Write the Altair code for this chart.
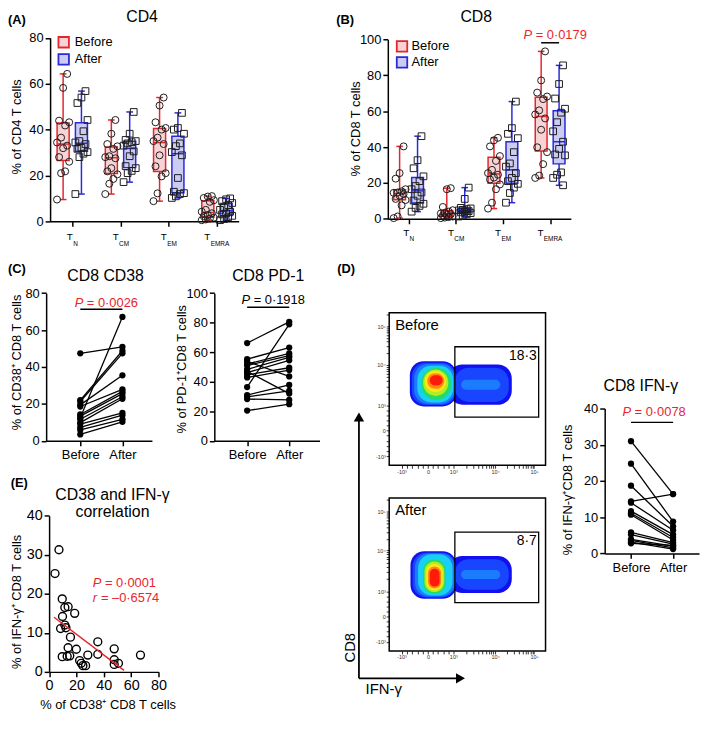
import math
import altair as alt
import numpy as np
import pandas as pd

FONT = "Liberation Sans"
W, H = 700, 710
RED = "#e4262c"
BLUE = "#2a2ad8"
PINK = "#f7d3d5"
LAV = "#cbcbf3"
TXTRED = "#e8262e"
NB = "\u00a0"

# ---------------------------------------------------------------- data
subs = ["N", "CM", "EM", "EMRA"]

cd4_before = [
    [64.3, 58.2, 43.9, 43.2, 41.8, 36.5, 34.4, 33.0, 31.9, 28.0, 26.0, 21.8, 21.0, 9.5],
    [44.2, 38.2, 33.7, 32.7, 31.6, 28.4, 28.0, 27.5, 23.2, 21.8, 20.5, 18.5, 16.4, 11.9],
    [54.0, 50.5, 43.2, 40.7, 40.0, 36.5, 35.0, 33.7, 28.8, 24.0, 21.0, 19.6, 12.2, 8.8],
    [11.0, 10.8, 10.2, 9.2, 8.5, 5.0, 4.2, 3.5, 2.8, 2.2, 1.6, 1.2, 0.8, 0.5],
]
cd4_after = [
    [56.8, 54.0, 51.6, 44.2, 39.3, 35.0, 34.4, 33.7, 32.0, 31.6, 30.2, 29.5, 28.0, 11.9],
    [47.7, 38.2, 35.5, 35.0, 34.5, 34.0, 33.0, 30.5, 28.4, 24.1, 23.2, 22.0, 21.0, 17.1],
    [47.3, 40.7, 40.0, 38.2, 34.0, 32.8, 30.2, 28.8, 18.9, 12.9, 12.3, 11.9, 10.9, 10.2],
    [10.0, 9.6, 8.8, 8.0, 7.0, 6.0, 5.0, 4.2, 3.5, 3.0, 2.4, 1.8, 1.0, 0.5],
]
cd8_before = [
    [40.4, 25.5, 22.4, 16.5, 15.3, 14.7, 14.5, 13.8, 12.9, 11.1, 10.5, 7.5, 1.3, 0.4],
    [17.1, 16.5, 6.6, 4.8, 4.0, 3.4, 3.0, 2.5, 2.2, 1.8, 1.3, 1.0, 0.7, 0.4],
    [45.2, 43.8, 40.4, 35.0, 32.3, 27.3, 25.5, 24.6, 23.0, 21.9, 19.2, 16.5, 9.0, 5.7],
    [93.4, 77.2, 70.4, 68.2, 66.8, 60.5, 58.2, 56.0, 49.7, 39.9, 37.2, 30.5, 24.1, 22.8],
]
cd8_after = [
    [46.1, 32.7, 28.2, 23.7, 21.0, 18.3, 16.5, 14.7, 12.9, 10.2, 8.4, 7.2, 6.1, 4.0],
    [17.4, 11.1, 6.1, 5.8, 5.4, 5.0, 4.7, 4.3, 4.0, 3.6, 3.2, 2.5, 1.8, 1.3],
    [65.4, 50.6, 47.4, 45.0, 37.2, 30.9, 29.1, 25.5, 22.8, 21.0, 19.5, 17.4, 14.4, 9.0],
    [85.6, 75.2, 67.1, 61.4, 59.2, 53.9, 48.8, 43.0, 39.0, 35.9, 35.4, 25.9, 24.6, 22.8, 18.7],
]

cd38_before = [47.4, 22.1, 21.3, 19.5, 12.5, 18.6, 14.3, 13.4, 11.7, 9.9, 9.1, 7.3, 5.9, 3.5]
cd38_after = [50.9, 48.8, 47.4, 35.5, 67.1, 27.9, 26.8, 25.6, 23.9, 22.8, 15.2, 13.9, 11.7, 10.3]

pd1_before = [66.2, 55.3, 53.8, 52.0, 51.0, 48.4, 47.0, 46.2, 44.7, 42.9, 36.4, 31.0, 29.8, 28.3, 20.5]
pd1_after = [80.6, 63.2, 43.6, 59.3, 57.7, 56.6, 32.0, 54.5, 49.5, 47.9, 78.9, 37.9, 33.8, 27.7, 24.8]

ifn_before = [31.0, 24.8, 18.7, 14.4, 14.0, 11.7, 11.1, 10.7, 5.8, 5.2, 3.9, 3.6, 3.1, 2.8]
ifn_after = [16.4, 8.8, 7.5, 16.4, 6.4, 5.2, 4.4, 3.7, 3.0, 2.6, 2.0, 1.5, 1.2, 2.2]

corr_x = [7.2, 4.3, 9.6, 11.5, 13.9, 18.7, 9.8, 11.5, 12.3, 8.4, 15.6, 13.9, 19.9, 35.6,
          47.6, 66.8, 28.3, 35.6, 9.6, 13.2, 15.1, 22.3, 23.5, 24.7, 26.7, 47.6, 47.6, 50.7]
corr_y = [31.3, 25.2, 18.7, 16.5, 16.7, 15.0, 14.2, 12.0, 11.3, 11.1, 8.9, 6.2, 5.8, 7.7,
          5.9, 4.3, 4.3, 4.5, 3.9, 4.0, 4.1, 2.9, 2.2, 1.6, 1.6, 3.1, 1.9, 2.2]
fit_x = [3.6, 54.8]
fit_y = [14.0, 0.4]

# flow density plots (display units 0-100), nested contour levels
before_x1 = [13.2, 38.0, 14.5, 42.0, 16.0, 46.0, 18.0, 20.6, 21.7, 22.7, 24.3, 25.9]
before_x2 = [43.0, 78.4, 42.5, 76.5, 42.0, 71.0, 41.0, 39.5, 37.8, 36.3, 35.2, 34.2]
before_y1 = [38.6, 39.7, 39.5, 41.5, 40.2, 49.5, 41.2, 42.8, 45.5, 48.1, 50.2, 52.3]
before_y2 = [68.2, 66.0, 67.2, 64.0, 66.4, 56.0, 65.2, 63.9, 62.8, 61.8, 60.4, 59.1]
before_lvl = [1, 1, 2, 2, 3, 3, 4, 5, 6, 7, 8, 9]

after_x1 = [13.6, 38.0, 15.0, 42.0, 16.5, 46.0, 18.5, 21.6, 22.6, 23.7, 24.8, 25.9]
after_x2 = [43.0, 78.4, 42.5, 76.5, 42.0, 71.0, 40.5, 36.3, 35.2, 34.2, 33.2, 32.2]
after_y1 = [34.1, 37.9, 35.0, 40.0, 35.6, 47.0, 36.2, 37.5, 38.5, 39.5, 41.0, 42.1]
after_y2 = [65.3, 62.1, 64.3, 60.0, 63.8, 53.0, 63.2, 60.0, 58.5, 56.9, 55.3, 53.7]
after_lvl = [1, 1, 2, 2, 3, 3, 4, 5, 6, 7, 8, 9]

gate_box = [42.0, 95.6, 31.6, 77.7]
gate_before = "18·3"
gate_after = "8·7"

flow_y_major = [6.0, 22.8, 39.0, 65.8, 91.1]
flow_x_major = [7.9, 24.8, 41.0, 67.8, 92.7]
flow_major_labels = ["-10³", "0", "10³", "10⁴", "10⁵"]

LVL_COLORS = ["#1010f0", "#1846ff", "#1c7cff", "#18d0f4", "#22dc6a",
              "#b4ec22", "#ffe61a", "#ff8a10", "#ff1a0a"]


# ---------------------------------------------------------------- layout helpers
def X(r):
    return (r - 4.0) * 700.0 / 703.0


def Y(r):
    return (r - 6.0) * 706.0 / 724.0


PA = dict(xr=(46.7, 238.0), yr=(223.3, 33.3), xdom=(-0.46, 3.45), ydom=(0, 80))
PB = dict(xr=(389.3, 575.0), yr=(220.7, 35.0), xdom=(-0.44, 3.44), ydom=(0, 100))
PC1 = dict(xr=(42.7, 150.0), yr=(450.7, 297.7), xdom=(-0.81, 1.70), ydom=(0, 80))
PC2 = dict(xr=(213.3, 320.0), yr=(450.7, 297.7), xdom=(-0.78, 1.72), ydom=(0, 100))
PD = dict(xr=(609.3, 705.0), yr=(567.3, 417.3), xdom=(-0.625, 1.616), ydom=(0, 40))
PE = dict(xr=(45.7, 156.7), yr=(690.0, 528.3), xdom=(0, 80), ydom=(0, 40))
PF1 = dict(xr=(390.7, 549.3), yr=(476.0, 318.0), xdom=(0, 100), ydom=(0, 100))
PF2 = dict(xr=(390.7, 549.3), yr=(668.3, 510.0), xdom=(0, 100), ydom=(0, 100))

ONE = pd.DataFrame({"k": [0]})


def xscale(P):
    return alt.Scale(domain=list(P["xdom"]), range=[X(P["xr"][0]), X(P["xr"][1])], nice=False, zero=False)


def yscale(P):
    return alt.Scale(domain=list(P["ydom"]), range=[Y(P["yr"][0]), Y(P["yr"][1])], nice=False, zero=False)


AX = dict(grid=False, domainColor="black", domainWidth=1.5, tickColor="black", tickWidth=1.5,
          tickSize=5, labelColor="black", labelPadding=2, labelOverlap=False, labelFlush=False,
          labelFont=FONT)


def left_axis(P, values, title=None, tpos=None, lfs=13, tfs=13, **kw):
    ax0 = X(P["xr"][0])
    d = dict(AX)
    d.update(orient="left", offset=-ax0, values=values, labelFontSize=lfs)
    if title is None:
        d["title"] = None
    else:
        d.update(title=title, titleX=X(tpos[0]) - ax0, titleY=Y(tpos[1]), titleAngle=270,
                 titleAlign="center", titleBaseline="middle", titleFontSize=tfs,
                 titleFontWeight="normal", titleColor="black", titleFont=FONT)
    d.update(kw)
    return alt.Axis(**d)


def bottom_axis(P, values, title=None, tpos=None, lfs=13, tfs=13, **kw):
    ay0 = Y(P["yr"][0])
    d = dict(AX)
    d.update(orient="bottom", offset=ay0 - H, values=values, labelFontSize=lfs)
    if title is None:
        d["title"] = None
    else:
        d.update(title=title, titleX=X(tpos[0]), titleY=Y(tpos[1]) - ay0, titleAngle=0,
                 titleAlign="center", titleBaseline="middle", titleFontSize=tfs,
                 titleFontWeight="normal", titleColor="black", titleFont=FONT)
    d.update(kw)
    return alt.Axis(**d)


EMW = {"0": .556, "1": .556, "2": .556, "3": .556, "4": .556, "5": .556, "6": .556,
       "7": .556, "8": .556, "9": .556, " ": .278, NB: .278, "=": .584, "·": .278, "–": .556}


def em(s):
    return sum(EMW.get(c, .556) for c in s)


def p_text(xs, ys, xc, yc, rest, color, fs=13, center=True, letter="P"):
    d = pd.DataFrame({"x": [xc], "y": [yc]})
    wl = (0.667 if letter == "P" else 0.36) * fs + 0.278 * fs
    wr = em(rest) * fs
    left = -(wl + wr) / 2 if center else 0.0
    enc = dict(x=alt.X("x:Q", scale=xs, axis=None), y=alt.Y("y:Q", scale=ys, axis=None))
    a = alt.Chart(d).mark_text(text=letter, fontStyle="italic", align="left", baseline="middle",
                               dx=left, fontSize=fs, color=color).encode(**enc)
    b = alt.Chart(d).mark_text(text=rest, align="left", baseline="middle", dx=left + wl,
                               fontSize=fs, color=color).encode(**enc)
    return [a, b]


def sig_bar(xs, ys, x0, x1, yv):
    d = pd.DataFrame({"x0": [x0], "x1": [x1], "y": [yv]})
    return alt.Chart(d).mark_rule(color="black", strokeWidth=1.5).encode(
        x=alt.X("x0:Q", scale=xs, axis=None), x2="x1:Q", y=alt.Y("y:Q", scale=ys, axis=None))


def txt(text, x, y, size, align="center", color="black", weight="normal", angle=0):
    return alt.Chart(ONE).mark_text(text=text, align=align, baseline="middle", fontSize=size,
                                    color=color, fontWeight=weight, angle=angle).encode(
        x=alt.value(X(x)), y=alt.value(Y(y)))


def long_df(before, after):
    rows = []
    for ci in range(len(before)):
        rows += [(ci, "Before", v) for v in before[ci]]
        rows += [(ci, "After", v) for v in after[ci]]
    return pd.DataFrame(rows, columns=["ci", "g", "v"])


# ---------------------------------------------------------------- box panels
def box_panel(P, before, after, yvals, ytitle, ytpos, tlab_y, sub_y, leg):
    df = long_df(before, after)
    xs, ys = xscale(P), yscale(P)
    OFF, HW, CW = 0.19, 0.125, 0.07
    side = f"(datum.g == 'Before' ? {-OFF} : {OFF})"
    agg = (alt.Chart(df)
           .transform_aggregate(q1="q1(v)", q3="q3(v)", md="median(v)", mn="min(v)", mx="max(v)",
                                groupby=["ci", "g"])
           .transform_calculate(cx=f"datum.ci + {side}")
           .transform_calculate(xl=f"datum.cx - {HW}", xh=f"datum.cx + {HW}",
                                cl=f"datum.cx - {CW}", ch=f"datum.cx + {CW}",
                                sc=f"datum.g == 'Before' ? '{RED}' : '{BLUE}'",
                                fc=f"datum.g == 'Before' ? '{PINK}' : '{LAV}'"))
    yax = left_axis(P, yvals, ytitle, ytpos)
    xax = bottom_axis(P, [0, 1, 2, 3], labels=False)
    col = alt.Color("sc:N", scale=None)
    whisk = agg.mark_rule(strokeWidth=1.5).encode(
        x=alt.X("cx:Q", scale=xs, axis=xax), y=alt.Y("mn:Q", scale=ys, axis=yax), y2="mx:Q", color=col)
    box = agg.mark_rect(strokeWidth=1.5).encode(
        x=alt.X("xl:Q", scale=xs, axis=None), x2="xh:Q",
        y=alt.Y("q1:Q", scale=ys, axis=None), y2="q3:Q",
        fill=alt.Fill("fc:N", scale=None), stroke=alt.Stroke("sc:N", scale=None))
    med = agg.mark_rule(strokeWidth=1.5).encode(
        x=alt.X("xl:Q", scale=xs, axis=None), x2="xh:Q", y=alt.Y("md:Q", scale=ys, axis=None), color=col)
    cap1 = agg.mark_rule(strokeWidth=1.5).encode(
        x=alt.X("cl:Q", scale=xs, axis=None), x2="ch:Q", y=alt.Y("mn:Q", scale=ys, axis=None), color=col)
    cap2 = agg.mark_rule(strokeWidth=1.5).encode(
        x=alt.X("cl:Q", scale=xs, axis=None), x2="ch:Q", y=alt.Y("mx:Q", scale=ys, axis=None), color=col)
    pts = (alt.Chart(df)
           .transform_window(idx="row_number()", groupby=["ci", "g"])
           .transform_calculate(jx=f"datum.ci + {side} + ((datum.idx * 5) % 7 - 3) * 0.042"))
    penc = dict(x=alt.X("jx:Q", scale=xs, axis=None), y=alt.Y("v:Q", scale=ys, axis=None))
    pb = pts.transform_filter("datum.g == 'Before'").mark_point(
        shape="circle", size=50, strokeWidth=1, color="#1c1c1c", opacity=1).encode(**penc)
    pa = pts.transform_filter("datum.g == 'After'").mark_point(
        shape="square", size=46, strokeWidth=1, color="#1c1c1c", opacity=1).encode(**penc)

    ppu = (X(P["xr"][1]) - X(P["xr"][0])) / (P["xdom"][1] - P["xdom"][0])
    lab = pd.DataFrame({"ci": list(range(len(subs))), "sub": subs})
    tw = 6.1
    sw = lab["sub"].str.len() * 4.9
    lab["tx"] = lab["ci"] + ((tw - sw) / 2) / ppu
    lab["sx"] = lab["tx"] + 0.4 / ppu
    tl = alt.Chart(lab).mark_text(text="T", align="right", baseline="middle", fontSize=10,
                                  color="black").encode(
        x=alt.X("tx:Q", scale=xs, axis=None), y=alt.value(Y(tlab_y)))
    sl = alt.Chart(lab).mark_text(align="left", baseline="middle", fontSize=6.5, color="black").encode(
        x=alt.X("sx:Q", scale=xs, axis=None), y=alt.value(Y(sub_y)), text="sub:N")

    lx, ly1, ly2, ltx = leg
    s1 = alt.Chart(ONE).mark_square(size=112, fill=PINK, stroke=RED, strokeWidth=1.8, opacity=1).encode(
        x=alt.value(X(lx)), y=alt.value(Y(ly1)))
    s2 = alt.Chart(ONE).mark_square(size=112, fill=LAV, stroke=BLUE, strokeWidth=1.8, opacity=1).encode(
        x=alt.value(X(lx)), y=alt.value(Y(ly2)))
    t1 = txt("Before", ltx, ly1, 13, align="left")
    t2 = txt("After", ltx, ly2, 13, align="left")
    return [whisk, box, med, cap1, cap2, pb, pa, tl, sl, s1, s2, t1, t2], xs, ys


# ---------------------------------------------------------------- paired panels
def pair_panel(P, before, after, yvals, ytitle, ytpos):
    xs, ys = xscale(P), yscale(P)
    n = len(before)
    df = pd.DataFrame({"pid": list(range(n)) * 2, "t": [0] * n + [1] * n, "v": list(before) + list(after)})
    yax = left_axis(P, yvals, ytitle, ytpos)
    xax = bottom_axis(P, [0, 1], labelExpr="datum.value == 0 ? 'Before' : 'After'", labelPadding=3)
    lines = alt.Chart(df).mark_line(color="black", strokeWidth=1.3).encode(
        x=alt.X("t:Q", scale=xs, axis=xax), y=alt.Y("v:Q", scale=ys, axis=yax), detail="pid:N")
    dots = alt.Chart(df).mark_circle(size=40, color="black", opacity=1).encode(
        x=alt.X("t:Q", scale=xs, axis=None), y=alt.Y("v:Q", scale=ys, axis=None))
    return [lines, dots], xs, ys


# ---------------------------------------------------------------- flow panels
def flow_ticks(m):
    t = list(m)
    for k in (2, 4, 6, 8):
        t.append(m[1] + (m[2] - m[1]) * k / 10)
        t.append(m[1] - (m[1] - m[0]) * k / 10)
    for k in range(2, 10):
        t.append(m[2] + (m[3] - m[2]) * math.log10(k))
        t.append(m[3] + (m[4] - m[3]) * math.log10(k))
    t.append(m[4] + (m[4] - m[3]) * math.log10(2))
    return sorted(v for v in t if 0.5 < v < 99.5)


def flow_label_expr(m):
    expr = "''"
    for v, s in zip(reversed(m), reversed(flow_major_labels)):
        expr = f"datum.value == {v} ? '{s}' : ({expr})"
    return expr


def flow_panel(P, x1, x2, y1, y2, lvl, name, gate_val):
    xs, ys = xscale(P), yscale(P)
    df = pd.DataFrame({"x1": x1, "x2": x2, "y1": y1, "y2": y2, "lvl": lvl})
    df["col"] = [LVL_COLORS[l - 1] for l in lvl]
    enc = dict(x=alt.X("x1:Q", scale=xs, axis=None), x2="x2:Q",
               y=alt.Y("y1:Q", scale=ys, axis=None), y2="y2:Q",
               color=alt.Color("col:N", scale=None))
    outer = alt.Chart(df).transform_filter("datum.lvl <= 4").mark_rect(
        cornerRadius=14, opacity=1).encode(**enc)
    inner = alt.Chart(df).transform_filter("datum.lvl > 4").mark_rect(
        cornerRadius=100, opacity=1).encode(**enc)
    g = pd.DataFrame({"x1": [gate_box[0]], "x2": [gate_box[1]], "y1": [gate_box[2]], "y2": [gate_box[3]]})
    gate = alt.Chart(g).mark_rect(fill="white", fillOpacity=0, stroke="black", strokeWidth=1.3).encode(
        x=alt.X("x1:Q", scale=xs, axis=None), x2="x2:Q", y=alt.Y("y1:Q", scale=ys, axis=None), y2="y2:Q")
    fy = dict(tickSize=3, tickWidth=0.8, labelFontSize=5.5, labelColor="#333", labelPadding=1,
              domain=False)
    yax = left_axis(P, flow_ticks(flow_y_major), labelExpr=flow_label_expr(flow_y_major), **fy)
    xax = bottom_axis(P, flow_ticks(flow_x_major), labelExpr=flow_label_expr(flow_x_major), **fy)
    fr = pd.DataFrame({"x1": [0], "x2": [100], "y1": [0], "y2": [100]})
    frame = alt.Chart(fr).mark_rect(fill="white", fillOpacity=0, stroke="black", strokeWidth=1.5).encode(
        x=alt.X("x1:Q", scale=xs, axis=xax), x2="x2:Q", y=alt.Y("y1:Q", scale=ys, axis=yax), y2="y2:Q")
    t = pd.DataFrame({"x": [3.8], "y": [92.0], "gx": [94.4], "gy": [71.8]})
    nm = alt.Chart(t).mark_text(text=name, align="left", baseline="middle", fontSize=15, color="black").encode(
        x=alt.X("x:Q", scale=xs, axis=None), y=alt.Y("y:Q", scale=ys, axis=None))
    gv = alt.Chart(t).mark_text(text=gate_val, align="right", baseline="middle", fontSize=14, color="black").encode(
        x=alt.X("gx:Q", scale=xs, axis=None), y=alt.Y("gy:Q", scale=ys, axis=None))
    return [outer, inner, gate, frame, nm, gv]


layers = []

# (A) CD4
la, xa, ya = box_panel(PA, cd4_before, cd4_after, [0, 20, 40, 60, 80], "% of CD4 T cells", (12.5, 125),
                       240.0, 246.5, (60.5, 37.8, 55.5, 71.7))
layers += la

# (B) CD8
lb, xb, yb = box_panel(PB, cd8_before, cd8_after, [0, 20, 40, 60, 80, 100], "% of CD8 T cells", (357, 127),
                       235.5, 242.0, (403.7, 42.0, 58.7, 413.3))
layers += lb
layers.append(sig_bar(xb, yb, 2.81, 3.19, 98.2))
layers += p_text(xb, yb, 3.1, 102.3, "=" + NB + "0·0179", TXTRED)

# (C) CD8 CD38
lc1, xc1, yc1 = pair_panel(PC1, cd38_before, cd38_after, [0, 20, 40, 60, 80], "% of CD38⁺ CD8 T cells", (12.5, 369))
layers += lc1
layers.append(sig_bar(xc1, yc1, 0, 1, 71.3))
layers += p_text(xc1, yc1, 0.61, 74.6, "=" + NB + "0·0026", TXTRED)

# (C) CD8 PD-1
lc2, xc2, yc2 = pair_panel(PC2, pd1_before, pd1_after, [0, 20, 40, 60, 80, 100], "% of PD-1⁺CD8 T cells", (180, 376))
layers += lc2
layers.append(sig_bar(xc2, yc2, 0, 1, 90.4))
layers += p_text(xc2, yc2, 0.61, 95.2, "=" + NB + "0·1918", "black")

# (D) CD8 IFN-g
ld, xd, yd = pair_panel(PD, ifn_before, ifn_after, [0, 10, 20, 30, 40], "% of IFN-γ⁺CD8 T cells", (572, 501))
layers += ld
layers.append(sig_bar(xd, yd, 0, 1, 36.2))
layers += p_text(xd, yd, 0.54, 39.0, "=" + NB + "0·0078", TXTRED)

# (D) flow plots
layers += flow_panel(PF1, before_x1, before_x2, before_y1, before_y2, before_lvl, "Before", gate_before)
layers += flow_panel(PF2, after_x1, after_x2, after_y1, after_y2, after_lvl, "After", gate_after)

# (E) correlation
xe, ye = xscale(PE), yscale(PE)
edf = pd.DataFrame({"x": corr_x, "y": corr_y})
fdf = pd.DataFrame({"x": fit_x, "y": fit_y})
eyax = left_axis(PE, [0, 10, 20, 30, 40], "% of IFN-γ⁺ CD8 T cells", (12.5, 617), lfs=14.5)
exax = bottom_axis(PE, [0, 20, 40, 60, 80], "% of CD38⁺ CD8 T cells", (105, 724), lfs=14.5)
layers.append(alt.Chart(edf).mark_point(shape="circle", size=64, strokeWidth=1.4, color="black", opacity=1).encode(
    x=alt.X("x:Q", scale=xe, axis=exax), y=alt.Y("y:Q", scale=ye, axis=eyax)))
layers.append(alt.Chart(fdf).mark_line(color=RED, strokeWidth=1.5).encode(
    x=alt.X("x:Q", scale=xe, axis=None), y=alt.Y("y:Q", scale=ye, axis=None)))
layers += p_text(xe, ye, 31.9, 22.8, "=" + NB + "0·0001", TXTRED, center=False)
layers += p_text(xe, ye, 31.9, 18.8, "=" + NB + "–0·6574", TXTRED, center=False, letter="r")

# panel letters and titles
for lab_, lx, ly in [("(A)", 4, 15), ("(B)", 337, 15), ("(C)", 4, 272.5), ("(D)", 338, 272.5), ("(E)", 6.7, 494)]:
    layers.append(txt(lab_, lx, ly, 13, align="left", weight="bold"))
for tt, tx_, ty_ in [("CD4", 140, 11.5), ("CD8", 479, 11.7), ("CD8 CD38", 103, 280), ("CD8 PD-1", 268, 280),
                     ("CD8 IFN-γ", 646, 394), ("CD38 and IFN-γ", 110, 506.7), ("correlation", 110, 524)]:
    layers.append(txt(tt, tx_, ty_, 16))

# flow axis arrows
layers.append(alt.Chart(ONE).mark_rule(color="black", strokeWidth=1.8).encode(
    x=alt.value(X(360)), y=alt.value(Y(428)), y2=alt.value(Y(696.7))))
layers.append(alt.Chart(ONE).mark_rule(color="black", strokeWidth=1.8).encode(
    x=alt.value(X(360)), x2=alt.value(X(461)), y=alt.value(Y(696.7))))
layers.append(alt.Chart(ONE).mark_point(shape="triangle-up", filled=True, size=110, color="black", opacity=1).encode(
    x=alt.value(X(360)), y=alt.value(Y(426))))
layers.append(alt.Chart(ONE).mark_point(shape="triangle-right", filled=True, size=110, color="black", opacity=1).encode(
    x=alt.value(X(463)), y=alt.value(Y(696.7))))
layers.append(txt("CD8", 351, 665, 15, angle=270))
layers.append(txt("IFN-γ", 366.7, 708, 15, align="left"))

chart = (alt.layer(*layers)
         .resolve_scale(x="independent", y="independent", color="independent",
                        fill="independent", stroke="independent")
         .properties(width=W, height=H, padding=0, autosize=alt.AutoSizeParams(type="none"))
         .configure(font=FONT)
         .configure_view(strokeWidth=0))

chart.save("out.html", embed_options={"renderer": "svg", "actions": False})
